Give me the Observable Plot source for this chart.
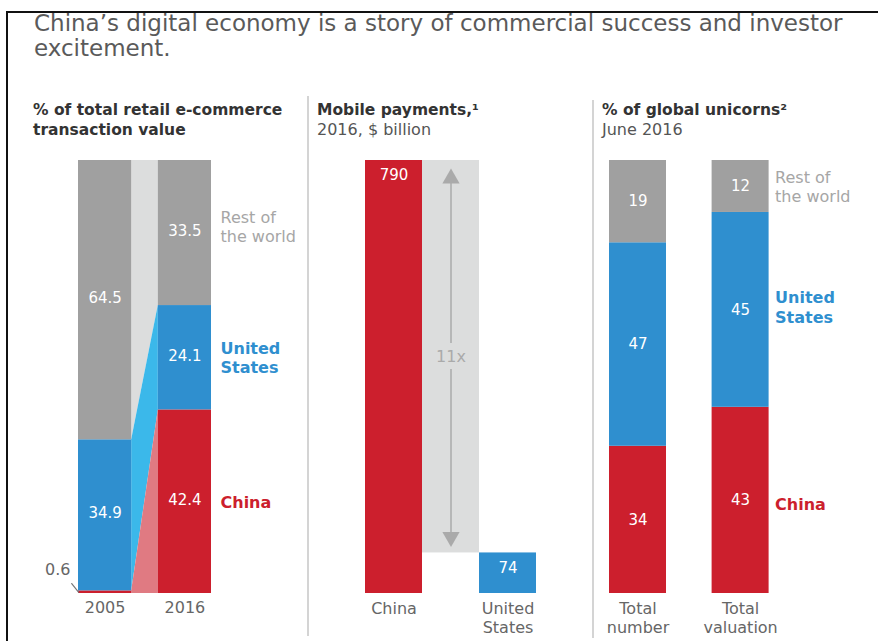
<!DOCTYPE html>
<html><head><meta charset="utf-8">
<script src="https://cdn.jsdelivr.net/npm/d3@7"></script>
<script src="https://cdn.jsdelivr.net/npm/@observablehq/plot@0.6"></script>
<style>
body{margin:0;background:#fff;}
#root{position:relative;width:878px;height:641px;overflow:hidden;background:#fff;font-family:"DejaVu Sans",sans-serif;}
.abs{position:absolute;}
#title{left:34px;top:11px;font-size:23px;line-height:25px;color:#5a5a5a;white-space:nowrap;}
.hdr{font-size:15.5px;line-height:20px;color:#333;white-space:nowrap;}
.hdr b{font-weight:bold;}
.hdr span{color:#555;font-size:16px;}
.sep{width:1.5px;background:#d4d4d4;}
svg{overflow:visible;}
</style></head>
<body><div id="root">
<div class="abs" style="left:6px;top:11px;width:872px;height:2px;background:#111"></div>
<div class="abs" style="left:6px;top:11px;width:2px;height:630px;background:#111"></div>
<div class="abs" id="title"></div>
<div class="abs sep" style="left:307px;top:96px;height:540px"></div>
<div class="abs sep" style="left:592px;top:100px;height:538px"></div>
</div>
<script>
// ---------- data ----------
const titleLines = ["China’s digital economy is a story of commercial success and investor", "excitement."];
const panelTitles = [
  {bold: ["% of total retail e-commerce", "transaction value"], sub: null},
  {bold: ["Mobile payments,¹"], sub: "2016, $ billion"},
  {bold: ["% of global unicorns²"], sub: "June 2016"}
];
const regions = ["China", "United States", "Rest of the world"];
const regionLabels = ["China", "United\nStates", "Rest of\nthe world"];

// Panel 1: e-commerce share
const ecomYears = ["2005", "2016"];
const ecomChina = [0.6, 42.4];
const ecomUS = [34.9, 24.1];
const ecomRest = [64.5, 33.5];

// Panel 2: mobile payments
const payCountries = ["China", "United\nStates"];
const payValues = [790, 74];

// Panel 3: unicorns
const uniCategories = ["Total\nnumber", "Total\nvaluation"];
const uniChina = [34, 43];
const uniUS = [47, 45];
const uniRest = [19, 12];

// ---------- style ----------
const RED = "#cc1f2d", BLUE = "#2f8fcf", GRAY = "#a0a0a0", LIGHT = "#dcdddd", LBLUE = "#3bb8ea", PINK = "#e07a82";
const regionFill = {"China": RED, "United States": BLUE, "Rest of the world": GRAY};
const connFill = {"China": PINK, "United States": LBLUE, "Rest of the world": LIGHT};
const labelStyle = {
  "China": {fill: RED, fontWeight: "bold"},
  "United States": {fill: BLUE, fontWeight: "bold"},
  "Rest of the world": {fill: "#a6a6a6", fontWeight: "normal"}
};
const FONT = "DejaVu Sans";

const root = document.getElementById("root");
document.getElementById("title").innerHTML = titleLines.join("<br>");
const hdrLeft = [33, 317, 602];
panelTitles.forEach((p, i) => {
  const d = document.createElement("div");
  d.className = "abs hdr";
  d.style.left = hdrLeft[i] + "px";
  d.style.top = "100px";
  d.innerHTML = p.bold.map(s => "<b>" + s + "</b>").join("<br>") + (p.sub ? "<br><span>" + p.sub + "</span>" : "");
  root.appendChild(d);
});

function stackRows(cats, series, step) {
  return cats.flatMap((c, i) => {
    let base = 0;
    return regions.map((r, k) => {
      const v = series[k][i];
      const row = {cat: c, i, region: r, value: v, y1: base, y2: base + v, x1: i * step, x2: i * step + 1};
      base += v;
      return row;
    });
  });
}
function place(svg, left, top) {
  svg.style.position = "absolute";
  svg.style.left = left + "px";
  svg.style.top = top + "px";
  root.appendChild(svg);
}
const baseStyle = {fontFamily: FONT, fontSize: "15px", overflow: "visible", background: "transparent"};

// ---------- panel 1 ----------
{
  const step = 1.5;
  const rows = stackRows(ecomYears, [ecomChina, ecomUS, ecomRest], step);
  const a = rows.filter(d => d.i === 0), b = rows.filter(d => d.i === 1);
  const conn = regions.flatMap((r, k) => [
    {region: r, x: a[k].x2, y1: a[k].y1, y2: a[k].y2},
    {region: r, x: b[k].x1, y1: b[k].y1, y2: b[k].y2}
  ]);
  const last = b;
  const labelDy = {"China": 0, "United States": 0, "Rest of the world": -7};
  const marks = [];
  regions.slice().reverse().forEach(r => {
    marks.push(Plot.areaY(conn.filter(d => d.region === r), {x: "x", y1: "y1", y2: "y2", fill: connFill[r]}));
  });
  regions.forEach(r => {
    marks.push(Plot.rect(rows.filter(d => d.region === r), {x1: "x1", x2: "x2", y1: "y1", y2: "y2", fill: regionFill[r]}));
  });
  marks.push(Plot.text(rows.filter(d => d.value >= 5), {x: d => (d.x1 + d.x2) / 2, y: d => (d.y1 + d.y2) / 2, text: d => d.value.toFixed(1), fill: "white", fontSize: 15, dy: -2}));
  const small = rows.filter(d => d.value < 5);
  marks.push(Plot.text(small, {x: "x1", y: "y2", text: d => d.value.toFixed(1), textAnchor: "end", dx: -8, dy: -21, fill: "#666", fontSize: 16}));
  marks.push(Plot.vector(small, {x: "x1", y: d => (d.y1 + d.y2) / 2, length: 11, rotate: -38, anchor: "start", stroke: "#777", strokeWidth: 1.2,
    shape: {draw(ctx, l) { ctx.moveTo(0, 0); ctx.lineTo(0, -l); }}}));
  marks.push(Plot.text(ecomYears, {x: (d, i) => i * step + 0.5, y: () => 0, text: d => d, lineAnchor: "top", dy: 8, fill: "#666", fontSize: 16}));
  regions.forEach((r, k) => {
    marks.push(Plot.text([last[k]], {x: "x2", y: d => (d.y1 + d.y2) / 2, text: () => regionLabels[k], textAnchor: "start", dx: 9, dy: labelDy[r], fontSize: 16, lineHeight: 1.2, ...labelStyle[r]}));
  });
  const svg = Plot.plot({
    width: 290, height: 500, marginLeft: 58, marginRight: 99, marginTop: 20, marginBottom: 47,
    x: {domain: [0, step + 1], axis: null},
    y: {domain: [0, 100], axis: null},
    style: baseStyle, marks
  });
  place(svg, 20, 140);
}

// ---------- panel 2 ----------
{
  const step = 2;
  const bars = payValues.map((v, i) => ({cat: payCountries[i], i, value: v, x1: i * step, x2: i * step + 1}));
  const hi = bars[0], lo = bars[1];
  const gapMid = (hi.x2 + lo.x1) / 2;
  const ratio = Math.round(hi.value / lo.value) + "x";
  const marks = [
    Plot.rect([{x1: hi.x2, x2: lo.x1, y1: lo.value, y2: hi.value}], {x1: "x1", x2: "x2", y1: "y1", y2: "y2", fill: LIGHT}),
    Plot.rect(bars, {x1: "x1", x2: "x2", y1: () => 0, y2: "value", fill: d => d.i === 0 ? RED : BLUE}),
    Plot.ruleX([gapMid], {x: d => d, y1: () => hi.value, y2: () => lo.value, insetTop: 12, insetBottom: 10, stroke: "#aaa", strokeWidth: 1.5}),
    Plot.dot([hi.value], {x: () => gapMid, y: d => d, symbol: "triangle", r: 6.4, fill: "#aaa", stroke: "none", dy: 18}),
    Plot.dot([lo.value], {x: () => gapMid, y: d => d, symbol: "triangle", r: 6.4, fill: "#aaa", stroke: "none", dy: -16, rotate: 180}),
    Plot.text([ratio], {x: () => gapMid, y: () => (hi.value + lo.value) / 2, text: d => d, fill: "#aaa", stroke: LIGHT, strokeWidth: 14, fontSize: 16}),
    Plot.text(bars, {x: d => d.x1 + 0.5, y: "value", text: d => String(d.value), dy: 15, fill: "white", fontSize: 15}),
    Plot.text(bars, {x: d => d.x1 + 0.5, y: () => 0, text: "cat", lineAnchor: "top", dy: 7, fill: "#666", fontSize: 16, lineHeight: 1.2})
  ];
  const svg = Plot.plot({
    width: 290, height: 500, marginLeft: 65, marginRight: 54, marginTop: 20, marginBottom: 47,
    x: {domain: [0, step + 1], axis: null},
    y: {domain: [0, d3.max(payValues)], axis: null},
    style: baseStyle, marks
  });
  place(svg, 300, 140);
}

// ---------- panel 3 ----------
{
  const step = 1.8;
  const rows = stackRows(uniCategories, [uniChina, uniUS, uniRest], step);
  const last = rows.filter(d => d.i === 1);
  const labelDy = {"China": 3, "United States": -3, "Rest of the world": 0};
  const marks = [];
  regions.forEach(r => {
    marks.push(Plot.rect(rows.filter(d => d.region === r), {x1: "x1", x2: "x2", y1: "y1", y2: "y2", fill: regionFill[r]}));
  });
  marks.push(Plot.text(rows, {x: d => (d.x1 + d.x2) / 2, y: d => (d.y1 + d.y2) / 2, text: d => String(d.value), fill: "white", fontSize: 15}));
  marks.push(Plot.text(uniCategories, {x: (d, i) => i * step + 0.5, y: () => 0, text: d => d, lineAnchor: "top", dy: 7, fill: "#666", fontSize: 16, lineHeight: 1.2}));
  regions.forEach((r, k) => {
    marks.push(Plot.text([last[k]], {x: "x2", y: d => (d.y1 + d.y2) / 2, text: () => regionLabels[k], textAnchor: "start", dx: 6, dy: labelDy[r], fontSize: 16, lineHeight: 1.2, ...labelStyle[r]}));
  });
  const svg = Plot.plot({
    width: 288, height: 500, marginLeft: 19, marginRight: 109.4, marginTop: 20, marginBottom: 47,
    x: {domain: [0, step + 1], axis: null},
    y: {domain: [0, 100], axis: null},
    style: baseStyle, marks
  });
  place(svg, 590, 140);
}
</script>
</body></html>
